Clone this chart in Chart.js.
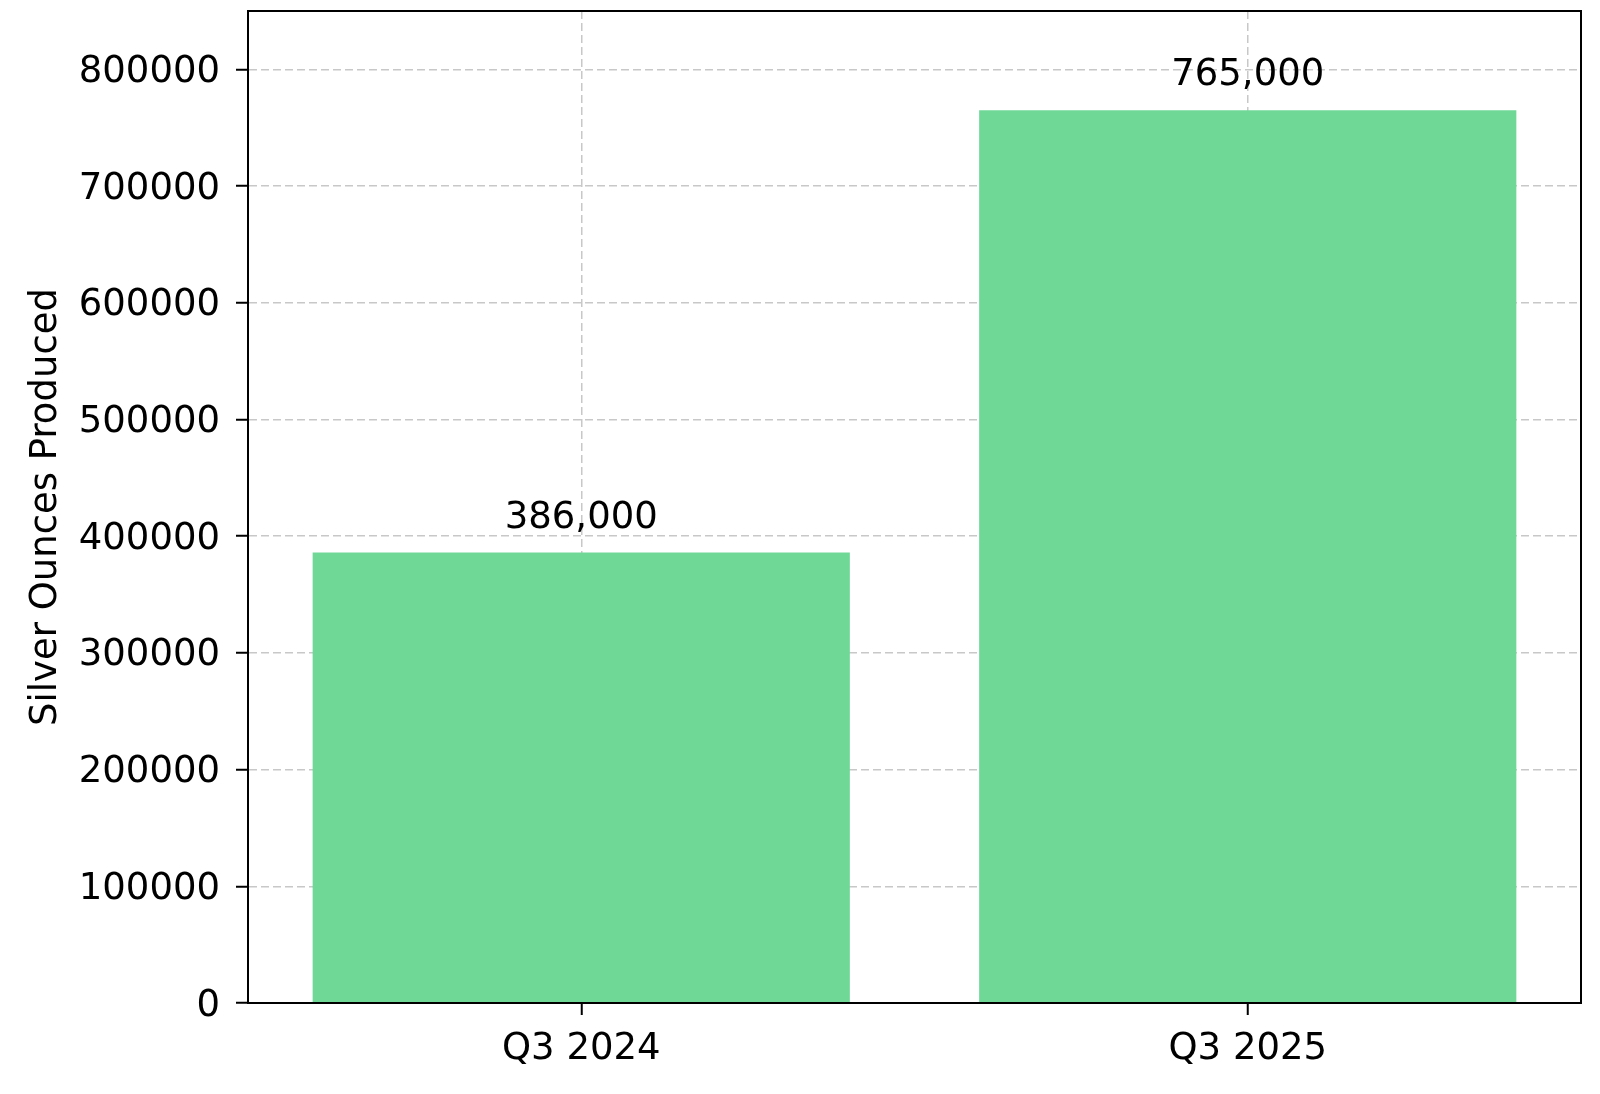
<!DOCTYPE html>
<html>
<head>
<meta charset="utf-8">
<script src="https://cdn.jsdelivr.net/npm/chart.js@4.4.1/dist/chart.umd.min.js"></script>
<style>
  html, body { margin: 0; padding: 0; background: #ffffff; }
  #wrap { width: 1600px; height: 1094px; }
</style>
</head>
<body>
<div id="wrap"><canvas id="chart" width="1600" height="1094"></canvas></div>
<script>
// dados do gráfico
const categories = ["Q3 2024", "Q3 2025"];
const silverOunces = [386000, 765000];
const yTicks = [0, 100000, 200000, 300000, 400000, 500000, 600000, 700000, 800000];
const yMax = 850000;

const fontFamily = "'DejaVu Sans', sans-serif";
const barColor = '#70d897';
const gridColor = '#c8c8c8';

// moldura preta em volta da área do gráfico
const framePlugin = {
    id: 'frame',
    afterDraw(chart) {
        const a = chart.chartArea;
        const ctx = chart.ctx;
        ctx.save();
        ctx.strokeStyle = '#000';
        ctx.lineWidth = 2;
        ctx.strokeRect(a.left, a.top, a.right - a.left, a.bottom - a.top);
        ctx.restore();
    }
};

// rótulos de valor acima das barras
const valueLabels = {
    id: 'valueLabels',
    afterDatasetsDraw(chart) {
        const ctx = chart.ctx;
        const meta = chart.getDatasetMeta(0);
        ctx.save();
        ctx.fillStyle = '#000';
        ctx.font = '37px ' + fontFamily;
        ctx.textAlign = 'center';
        ctx.textBaseline = 'alphabetic';
        meta.data.forEach((bar, i) => {
            const txt = silverOunces[i].toLocaleString('en-US');
            ctx.fillText(txt, bar.x, bar.y - 25);
        });
        ctx.restore();
    }
};

const ctx = document.getElementById('chart').getContext('2d');
new Chart(ctx, {
    type: 'bar',
    data: {
        labels: categories,
        datasets: [{
            data: silverOunces,
            backgroundColor: barColor,
            borderWidth: 0,
            barPercentage: 0.806,
            categoryPercentage: 1.0,
        }]
    },
    options: {
        responsive: false,
        animation: false,
        devicePixelRatio: 1,
        layout: { padding: { top: 11, right: 19, bottom: 0, left: 0 } },
        plugins: {
            legend: { display: false },
            tooltip: { enabled: false },
        },
        scales: {
            x: {
                z: 1,
                offset: true,
                grid: {
                    offset: false,
                    color: gridColor,
                    lineWidth: 1.5,
                    tickLength: 12,
                    tickColor: '#000',
                    tickWidth: 2,
                    tickBorderDash: [],
                },
                border: { display: true, color: '#000', width: 2, dash: [8, 4] },
                ticks: {
                    color: '#000',
                    padding: 12,
                    font: { family: fontFamily, size: 37 },
                    maxRotation: 0,
                },
                afterFit(scale) {
                    scale.height = 91;
                    scale.paddingLeft = 0;
                    scale.paddingRight = 0;
                },
            },
            y: {
                z: 1,
                min: 0,
                max: yMax,
                grid: {
                    color: gridColor,
                    lineWidth: 1.5,
                    tickLength: 12,
                    tickColor: '#000',
                    tickWidth: 2,
                    tickBorderDash: [],
                },
                border: { display: true, color: '#000', width: 2, dash: [8, 4] },
                ticks: {
                    color: '#000',
                    padding: 16,
                    labelOffset: 3,
                    font: { family: fontFamily, size: 37 },
                    callback: (v) => String(v),
                },
                afterBuildTicks(scale) {
                    scale.ticks = yTicks.map(v => ({ value: v }));
                },
                title: {
                    display: true,
                    text: 'Silver Ounces Produced',
                    color: '#000',
                    font: { family: fontFamily, size: 37 },
                    padding: { top: 24, bottom: 0 },
                },
                afterFit(scale) {
                    scale.width = 248;
                    scale.paddingTop = 0;
                    scale.paddingBottom = 0;
                },
            }
        }
    },
    plugins: [valueLabels, framePlugin]
});
</script>
</body>
</html>
